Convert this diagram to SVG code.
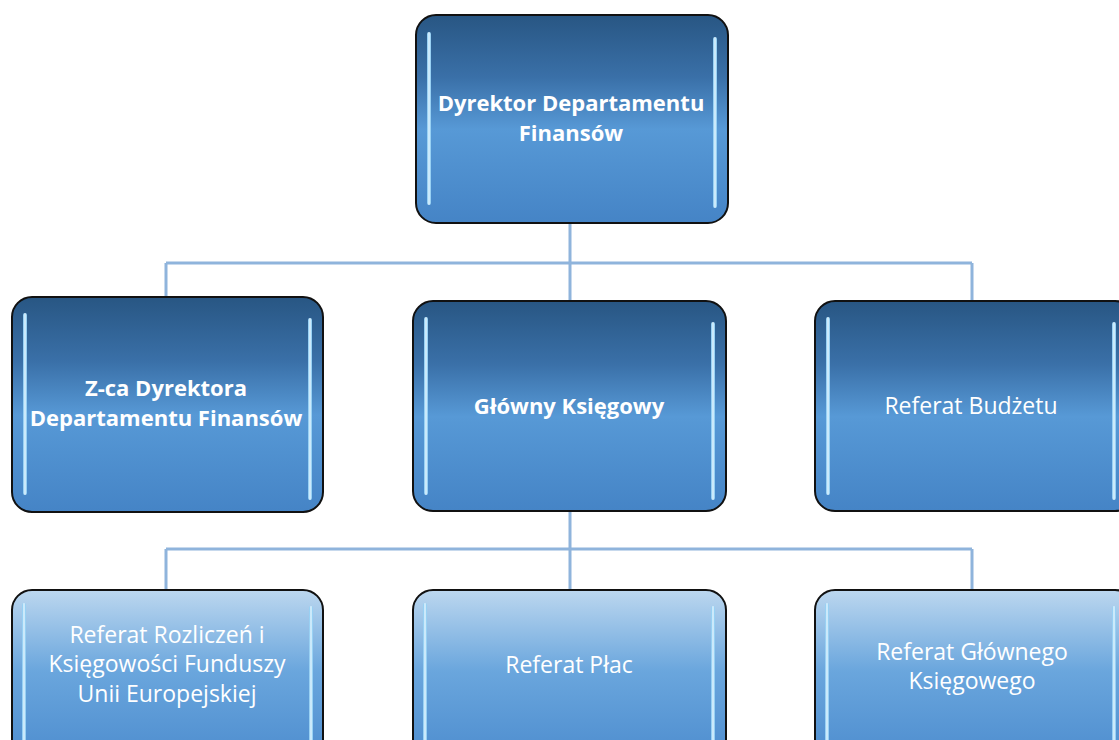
<svg xmlns="http://www.w3.org/2000/svg" width="1119" height="740" viewBox="0 0 1119 740">
<defs>
<linearGradient id="gDark" x1="0" y1="0" x2="0" y2="1">
<stop offset="0" stop-color="#285683"/>
<stop offset="0.3" stop-color="#3a70a8"/>
<stop offset="0.55" stop-color="#5799d6"/>
<stop offset="1" stop-color="#4584c6"/>
</linearGradient>
<linearGradient id="gLight" x1="0" y1="0" x2="0" y2="1">
<stop offset="0" stop-color="#bcd7ef"/>
<stop offset="0.45" stop-color="#6aa6dd"/>
<stop offset="1" stop-color="#4a8acd"/>
</linearGradient>
<linearGradient id="gBar" x1="0" y1="0" x2="1" y2="0">
<stop offset="0" stop-color="#7fc4ef"/>
<stop offset="0.5" stop-color="#e4f6ff"/>
<stop offset="1" stop-color="#7fc4ef"/>
</linearGradient>
<style>
.box{stroke:#111;stroke-width:2}
.d{fill:url(#gDark)}
.l{fill:url(#gLight)}
.bar{fill:url(#gBar)}
.t{font-family:"Open Sans","Liberation Sans",sans-serif;font-size:23px;fill:#fff;text-anchor:middle}
.b{font-weight:bold;font-size:22px}
.c{fill:none;stroke:#8fb4dc;stroke-width:3}
</style>
</defs>
<g id="connectors">
<path class="c" d="M570 223V263M166 263H972M166 263V297M570 263V300M972 263V300"/>
<path class="c" d="M570 511V549M166 549H972M166 549V590M570 549V590M972 549V590"/>
</g>
<g id="n1">
<rect class="box d" x="416" y="15" width="312" height="208" rx="20"/>
<rect class="bar" x="427" y="32" width="4" height="173" rx="2"/>
<rect class="bar" x="713" y="37" width="4" height="171" rx="2"/>
<text class="t b" x="571" y="111">Dyrektor Departamentu</text>
<text class="t b" x="571" y="141">Finansów</text>
</g>
<g id="n2">
<rect class="box d" x="12" y="297" width="311" height="215" rx="20"/>
<rect class="bar" x="23" y="313" width="4" height="182" rx="2"/>
<rect class="bar" x="308" y="318" width="4" height="182" rx="2"/>
<text class="t b" x="166" y="396">Z-ca Dyrektora</text>
<text class="t b" x="166" y="426">Departamentu Finansów</text>
</g>
<g id="n3">
<rect class="box d" x="413" y="301" width="313" height="210" rx="20"/>
<rect class="bar" x="424" y="317" width="4" height="178" rx="2"/>
<rect class="bar" x="711" y="322" width="4" height="178" rx="2"/>
<text class="t b" x="569" y="414">Główny Księgowy</text>
</g>
<g id="n4">
<rect class="box d" x="815" y="301" width="320" height="210" rx="20"/>
<rect class="bar" x="826" y="317" width="4" height="178" rx="2"/>
<rect class="bar" x="1112" y="322" width="4" height="178" rx="2"/>
<text class="t" x="971" y="414">Referat Budżetu</text>
</g>
<g id="n5">
<rect class="box l" x="12" y="590" width="311" height="180" rx="20"/>
<rect class="bar" x="22" y="603" width="4" height="145" rx="2"/>
<rect class="bar" x="309" y="606" width="4" height="145" rx="2"/>
<text class="t" x="167" y="643">Referat Rozliczeń i</text>
<text class="t" x="167" y="672">Księgowości Funduszy</text>
<text class="t" x="167" y="702">Unii Europejskiej</text>
</g>
<g id="n6">
<rect class="box l" x="413" y="590" width="313" height="180" rx="20"/>
<rect class="bar" x="423" y="603" width="4" height="145" rx="2"/>
<rect class="bar" x="711" y="606" width="4" height="145" rx="2"/>
<text class="t" x="569" y="673">Referat Płac</text>
</g>
<g id="n7">
<rect class="box l" x="815" y="590" width="320" height="180" rx="20"/>
<rect class="bar" x="825" y="603" width="4" height="145" rx="2"/>
<rect class="bar" x="1112" y="606" width="4" height="145" rx="2"/>
<text class="t" x="972" y="660">Referat Głównego</text>
<text class="t" x="972" y="689">Księgowego</text>
</g>
</svg>
